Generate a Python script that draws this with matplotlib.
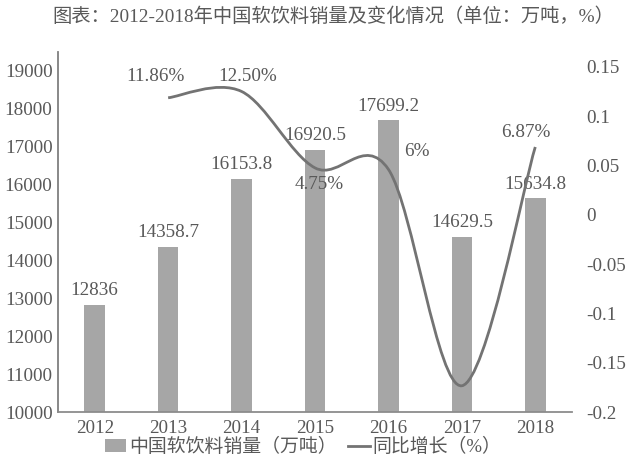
import numpy as np
import matplotlib
matplotlib.use('Agg')
import matplotlib.pyplot as plt
from matplotlib.path import Path
from matplotlib.patches import PathPatch, Patch
from matplotlib.lines import Line2D

plt.rcParams['font.family'] = ['Liberation Serif', 'Noto Sans CJK SC']

# data
years = ['2012', '2013', '2014', '2015', '2016', '2017', '2018']
sales = [12836, 14358.7, 16153.8, 16920.5, 17699.2, 14629.5, 15634.8]
sales_labels = ['12836', '14358.7', '16153.8', '16920.5', '17699.2', '14629.5', '15634.8']
growth = [0.1186, 0.1250, 0.0475, 0.046, -0.1734, 0.0687]   # 2013-2018
growth_labels = ['11.86%', '12.50%', '4.75%', '6%', '', '6.87%']
# label offsets (pixels) for the growth labels
growth_offsets = [(-13, 21), (6, 15), (4, -17), (28, 18), (0, 0), (-9, 14)]

grey_text = '#595959'
bar_color = '#a6a6a6'
line_color = '#737373'

fig = plt.figure(figsize=(6.38, 4.65), dpi=100)
ax = fig.add_axes([58 / 638, 1 - 412 / 465, (572 - 58) / 638, (412 - 52) / 465])
ax2 = ax.twinx()

x = np.arange(len(years))
bars = ax.bar(x, sales, width=0.28, color=bar_color, zorder=2)
ax.bar_label(bars, labels=sales_labels, padding=4, fontsize=13.8, color=grey_text)

ax.set_xlim(-0.5, 6.5)
ax.set_ylim(10000, 19500)
ax.set_yticks(range(10000, 19001, 1000))
ax.set_xticks(x)
ax.set_xticklabels(years)
ax.tick_params(axis='both', length=0, labelsize=13.8, colors=grey_text)
ax.tick_params(axis='x', pad=6)
ax.tick_params(axis='y', pad=4)
for s in ['top', 'right']:
    ax.spines[s].set_visible(False)
ax.spines['left'].set_color('#7f7f7f')
ax.spines['left'].set_linewidth(1.3)
ax.spines['bottom'].set_color('#8c8c8c')
ax.spines['bottom'].set_linewidth(1.3)

# smoothed growth line (Catmull-Rom style bezier, like Excel's smoothed line)
gx = np.arange(1, len(years))
pts = np.column_stack([gx, growth])
n = len(pts)
verts = [pts[0]]
codes = [Path.MOVETO]
for i in range(n - 1):
    p0 = pts[i - 1] if i > 0 else pts[i]
    p1 = pts[i]
    p2 = pts[i + 1]
    p3 = pts[i + 2] if i + 2 < n else pts[i + 1]
    c1 = p1 + (p2 - p0) / 6
    c2 = p2 - (p3 - p1) / 6
    verts += [c1, c2, p2]
    codes += [Path.CURVE4] * 3
ax2.add_patch(PathPatch(Path(verts, codes), facecolor='none', edgecolor=line_color,
                        linewidth=2, zorder=3))

for xi, val, lab, off in zip(gx, growth, growth_labels, growth_offsets):
    if lab:
        ax2.annotate(lab, (xi, val), xytext=off, textcoords='offset pixels',
                     ha='center', va='center', fontsize=13.8, color=grey_text)

ax2.set_ylim(-0.2, 0.165)
ax2.set_yticks([-0.2, -0.15, -0.1, -0.05, 0, 0.05, 0.1, 0.15])
ax2.set_yticklabels(['-0.2', '-0.15', '-0.1', '-0.05', '0', '0.05', '0.1', '0.15'])
ax2.tick_params(axis='y', length=0, labelsize=13.8, colors=grey_text, pad=10)
for s in ax2.spines.values():
    s.set_visible(False)

fig.text(0.522, 1 - 17 / 465, '图表：2012-2018年中国软饮料销量及变化情况（单位：万吨，%）',
         ha='center', va='center', fontsize=13.9, color=grey_text)

handles = [Patch(facecolor=bar_color, edgecolor='none'),
           Line2D([0], [0], color=line_color, linewidth=2)]
fig.legend(handles, ['中国软饮料销量（万吨）', '同比增长（%）'], loc='center',
           bbox_to_anchor=(0.475, 1 - 447 / 465), ncol=2, frameon=False,
           fontsize=13.6, labelcolor=grey_text, handlelength=1.15, handleheight=0.65,
           handletextpad=0.15, columnspacing=0.6)

fig.savefig('out.png', dpi=100)
